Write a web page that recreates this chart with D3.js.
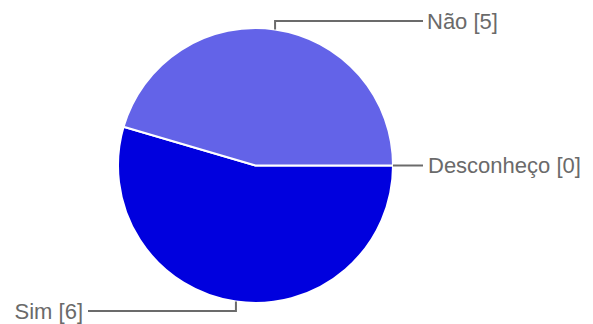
<!DOCTYPE html>
<html>
<head>
<meta charset="utf-8">
<script src="https://cdn.jsdelivr.net/npm/d3@7"></script>
<style>
  html, body { margin: 0; padding: 0; background: #fff; }
  svg { display: block; }
</style>
</head>
<body>
<svg id="chart" width="593" height="324"></svg>
<script>
// Answers and their counts, in drawing order (clockwise from 3 o'clock)
const categories = ["Desconheço", "Sim", "Não"];
const counts = [0, 6, 5];
const sliceColors = ["#5e5ee6", "#0000de", "#6363e8"];

const width = 593, height = 324;
const cx = 255.5, cy = 165.5, radius = 137.5;

const svg = d3.select("#chart");
const g = svg.append("g").attr("transform", `translate(${cx},${cy})`);

const data = categories.map((c, i) => ({ name: c, value: counts[i], color: sliceColors[i] }));

const pie = d3.pie()
  .sort(null)
  .value(d => d.value)
  .startAngle(Math.PI / 2)
  .endAngle(Math.PI / 2 + 2 * Math.PI);

const arcs = pie(data);
const arc = d3.arc().innerRadius(0).outerRadius(radius);

g.selectAll("path.slice")
  .data(arcs)
  .join("path")
  .attr("class", "slice")
  .attr("d", arc)
  .attr("fill", d => d.data.color)
  .attr("stroke", "#fff")
  .attr("stroke-width", 2)
  .attr("stroke-linejoin", "round");

// Leader-line layout per label: where the line bends and where the text sits
const labelLayout = {
  "Não":        { y: 21,  endX: 423, textX: 427, anchor: "start" },
  "Desconheço": { y: null, endX: 423, textX: 428, anchor: "start" },
  "Sim":        { y: 311, endX: 88,  textX: 83,  anchor: "end" }
};

const labels = svg.append("g");
arcs.forEach(a => {
  const mid = (a.startAngle + a.endAngle) / 2;
  const ex = cx + radius * Math.sin(mid);
  const ey = cy - radius * Math.cos(mid);
  const L = labelLayout[a.data.name];
  const ly = L.y === null ? ey : L.y;
  const pts = L.y === null ? [[ex, ey], [L.endX, ly]] : [[ex, ey], [ex, ly], [L.endX, ly]];
  labels.append("path")
    .attr("d", d3.line()(pts))
    .attr("fill", "none")
    .attr("stroke", "#6b6b6b")
    .attr("stroke-width", 2);
  labels.append("text")
    .attr("x", L.textX)
    .attr("y", ly)
    .attr("dy", "0.36em")
    .attr("text-anchor", L.anchor)
    .attr("font-family", "Arial, 'Liberation Sans', sans-serif")
    .attr("font-size", 22)
    .attr("fill", "#6a6a6a")
    .text(`${a.data.name} [${a.data.value}]`);
});
</script>
</body>
</html>
